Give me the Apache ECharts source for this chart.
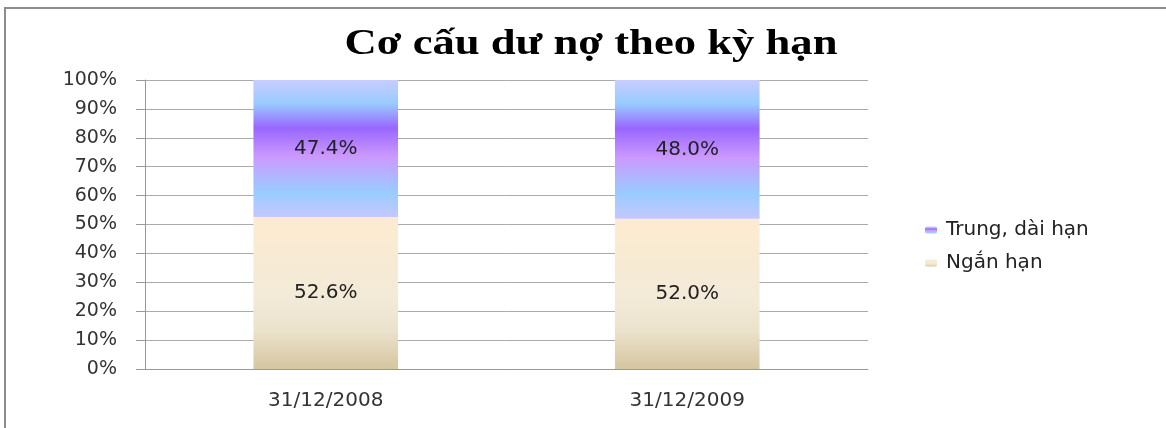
<!DOCTYPE html>
<html><head><meta charset="utf-8">
<script src="https://cdn.jsdelivr.net/npm/echarts@6/dist/echarts.min.js"></script>
<style>html,body{margin:0;padding:0;background:#fff}#c{width:1166px;height:428px}</style>
</head><body><div id="c"></div>
<script>
const categories = ['31/12/2008', '31/12/2009'];
const nganHan = [52.6, 52.0];
const trungDaiHan = [47.4, 48.0];
const seriesNames = ['Ngắn hạn', 'Trung, dài hạn'];
const titleText = 'Cơ cấu dư nợ theo kỳ hạn';

const purpleGrad = new echarts.graphic.LinearGradient(0, 0, 0, 1, [
  {offset: 0, color: '#c8ccff'},
  {offset: 0.17, color: '#99ccff'},
  {offset: 0.35, color: '#9966ff'},
  {offset: 0.56, color: '#cc99ff'},
  {offset: 0.82, color: '#99ccff'},
  {offset: 1, color: '#c4c8ff'}
]);
const beigeGrad = new echarts.graphic.LinearGradient(0, 0, 0, 1, [
  {offset: 0, color: '#fdebd0'},
  {offset: 0.55, color: '#f2ead8'},
  {offset: 0.75, color: '#ebe2cc'},
  {offset: 1, color: '#d6c6a0'}
]);
const chart = echarts.init(document.getElementById('c'));
const lbl = {show: true, position: 'inside', color: '#222', fontFamily: 'DejaVu Sans', fontSize: 20,
  formatter: p => p.value.toFixed(1) + '%'};
chart.setOption({
  animation: false,
  graphic: [
    {type: 'rect', shape: {x: 5, y: 8, width: 1170, height: 430}, style: {fill: 'none', stroke: '#8c8c8c', lineWidth: 2}},
    {type: 'text', x: 591, y: 45, scaleX: 1.24, style: {text: titleText, align: 'center', verticalAlign: 'middle',
      font: 'bold 36px "Liberation Serif"', fill: '#000'}}
  ],
  grid: {left: 145, right: 298, top: 80, bottom: 59},
  legend: {orient: 'vertical', left: 920, top: 215, itemGap: 13, itemWidth: 12, itemHeight: 7,
    data: [seriesNames[1], seriesNames[0]],
    textStyle: {fontFamily: 'DejaVu Sans', fontSize: 20, color: '#222', padding: [0, 0, 0, 4]}},
  xAxis: {type: 'category', data: categories,
    axisLine: {lineStyle: {color: '#999'}}, axisTick: {length: 6, lineStyle: {color: '#999'}},
    axisLabel: {fontFamily: 'DejaVu Sans', fontSize: 20, color: '#333', margin: 22}},
  yAxis: {type: 'value', min: 0, max: 100, interval: 10,
    axisLine: {show: true, lineStyle: {color: '#999'}}, axisTick: {show: true, length: 9, lineStyle: {color: '#999'}},
    axisLabel: {formatter: '{value}%', fontFamily: 'DejaVu Sans', fontSize: 19, color: '#333', margin: 28},
    splitLine: {lineStyle: {color: '#aaa'}}},
  series: [
    {name: seriesNames[0], type: 'bar', stack: 's', data: nganHan, barWidth: '40%', itemStyle: {color: beigeGrad}, label: lbl},
    {name: seriesNames[1], type: 'bar', stack: 's', data: trungDaiHan, barWidth: '40%', itemStyle: {color: purpleGrad}, label: lbl}
  ]
});
</script></body></html>
